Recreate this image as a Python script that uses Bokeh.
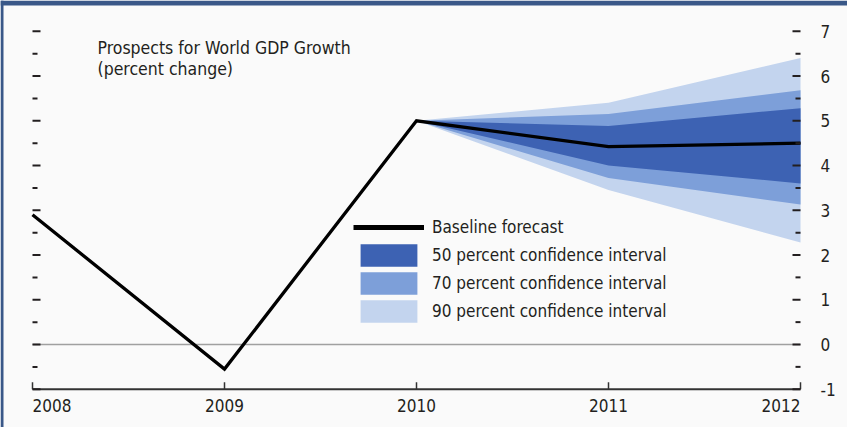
from bokeh.plotting import figure
from bokeh.models import (Label, Legend, LegendItem, Range1d, BoxAnnotation)
from bokeh.core.properties import value
from bokeh.embed import file_html
from bokeh.resources import INLINE

# ---- data ----
years = [2008, 2009, 2010, 2011, 2012]
gdp = [2.9, -0.55, 5.0, 4.42, 4.5]

fan_years = [2010, 2011, 2012]
ci90_low = [5.0, 3.45, 2.28]
ci90_high = [5.0, 5.40, 6.40]
ci70_low = [5.0, 3.72, 3.13]
ci70_high = [5.0, 5.15, 5.68]
ci50_low = [5.0, 4.00, 3.60]
ci50_high = [5.0, 4.88, 5.28]

y_ticks = [-1, 0, 1, 2, 3, 4, 5, 6, 7]
y_tick_labels = ["-1", "0", "1", "2", "3", "4", "5", "6", "7"]
y_minor = [-0.5, 0.5, 1.5, 2.5, 3.5, 4.5, 5.5, 6.5]
x_ticks = [2008, 2009, 2010, 2011, 2012]
x_labels = ["2008", "2009", "2010", "2011", "2012"]

title_lines = ["Prospects for World GDP Growth", "(percent change)"]
legend_labels = ["Baseline forecast", "50 percent confidence interval",
                 "70 percent confidence interval", "90 percent confidence interval"]

# ---- styles ----
W, H = 847, 427
FONT = "DejaVu Sans Condensed"
TXT = "#231f20"
BG = "#fafafa"
FRAME = "#3a5888"
C50 = "#3d62b3"
C70 = "#7d9fd9"
C90 = "#c3d4ee"
PX_YEAR = 192.0      # pixels per year
PX_UNIT = 44.75      # pixels per percentage point
X0_PX = 32.0         # pixel position of first year
Y0_PX = 344.0        # pixel position (from top) of zero

x_range = Range1d(x_ticks[0] - X0_PX / PX_YEAR, x_ticks[0] + (W - X0_PX) / PX_YEAR)
y_range = Range1d(-(H - Y0_PX) / PX_UNIT, Y0_PX / PX_UNIT)

p = figure(width=W, height=H, output_backend="svg", toolbar_location=None,
           x_range=x_range, y_range=y_range,
           x_axis_location=None, y_axis_location=None,
           min_border=0, min_border_left=0, min_border_right=0,
           min_border_top=0, min_border_bottom=0,
           background_fill_color=BG, border_fill_color=BG,
           outline_line_color=None)
p.grid.visible = False

xa, xb = x_ticks[0], x_ticks[-1]
txt_style = dict(text_font=value(FONT), text_font_size="17px", text_color=TXT)

# zero line
p.line(x=[xa, xb], y=[0, 0], line_color="#a0a0a0", line_width=1.3)

# fan chart bands
r90 = p.varea(x=fan_years, y1=ci90_low, y2=ci90_high, fill_color=C90)
r70 = p.varea(x=fan_years, y1=ci70_low, y2=ci70_high, fill_color=C70)
r50 = p.varea(x=fan_years, y1=ci50_low, y2=ci50_high, fill_color=C50)

# baseline line
p.line(x=years, y=gdp, line_color="black", line_width=3.3, line_join="miter")

# x axis (line, upward ticks, labels)
p.line(x=[xa, xb], y=[y_ticks[0], y_ticks[0]], line_color="#333333", line_width=2)
p.ray(x=x_ticks, y=[y_ticks[0]] * len(x_ticks), length=7, length_units="screen",
      angle=90, angle_units="deg", line_color="#333333", line_width=1.5)
p.text(x=x_ticks[:1], y=[y_ticks[0]], text=x_labels[:1], text_align="left",
       text_baseline="middle", y_offset=16, **txt_style)
p.text(x=x_ticks[1:-1], y=[y_ticks[0]] * (len(x_ticks) - 2), text=x_labels[1:-1],
       text_align="center", text_baseline="middle", y_offset=16, **txt_style)
p.text(x=x_ticks[-1:], y=[y_ticks[0]], text=x_labels[-1:], text_align="right",
       text_baseline="middle", y_offset=16, **txt_style)

# y ticks, both sides (major longer, minor shorter)
for xv, ang in ((xa, 0), (xb, 180)):
    p.ray(x=[xv] * len(y_ticks), y=y_ticks, length=8, length_units="screen",
          angle=ang, angle_units="deg", line_color=TXT, line_width=2)
    p.ray(x=[xv] * len(y_minor), y=y_minor, length=5, length_units="screen",
          angle=ang, angle_units="deg", line_color=TXT, line_width=2)

# y tick labels on the right
p.text(x=[xb] * len(y_ticks), y=y_ticks, text=y_tick_labels, x_offset=20,
       text_align="left", text_baseline="middle", **txt_style)

# legend (sample line drawn by a data-less renderer so it can be thicker)
leg_line = p.line(x=[float("nan")], y=[float("nan")], line_color="black", line_width=5)
legend = Legend(items=[LegendItem(label=legend_labels[0], renderers=[leg_line]),
                       LegendItem(label=legend_labels[1], renderers=[r50]),
                       LegendItem(label=legend_labels[2], renderers=[r70]),
                       LegendItem(label=legend_labels[3], renderers=[r90])],
                location=(353, 102), orientation="vertical",
                glyph_width=71, glyph_height=28, spacing=-2, padding=0, margin=0,
                label_standoff=8, label_height=20,
                label_text_font=FONT, label_text_font_size="17px",
                label_text_color=TXT,
                background_fill_alpha=0, border_line_color=None)
p.add_layout(legend)

# title lines
for txt, yy in zip(title_lines, [H - 47, H - 68]):
    p.add_layout(Label(x=97, y=yy, x_units="screen", y_units="screen", text=txt,
                       text_font=FONT, text_font_size="17.5px", text_color=TXT,
                       text_baseline="middle", text_align="left"))

# blue frame (top band and left border)
p.add_layout(BoxAnnotation(bottom=H - 5, bottom_units="screen", fill_color=FRAME,
                           fill_alpha=1, line_color=None))
p.add_layout(BoxAnnotation(right=3, right_units="screen", fill_color=FRAME,
                           fill_alpha=1, line_color=None))

open("out.html", "w").write(file_html(p, INLINE))
